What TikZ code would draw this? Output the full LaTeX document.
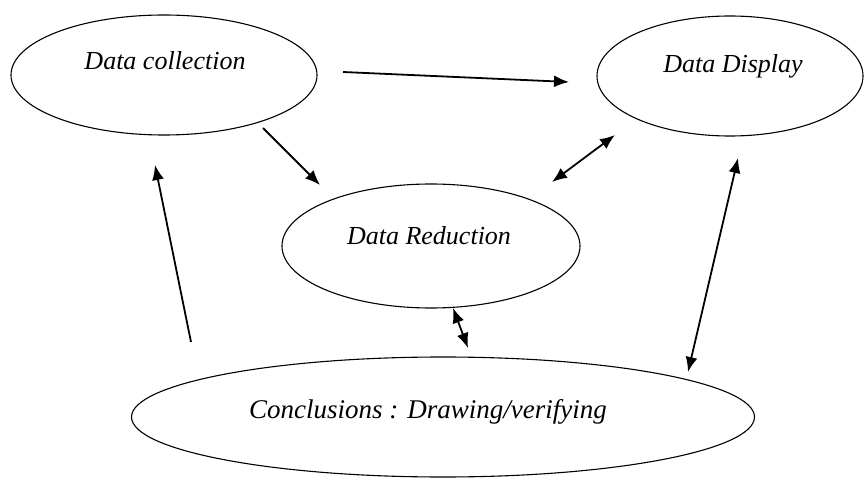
\documentclass[tikz,border=0pt]{standalone}
\usepackage{fontspec}
\setmainfont{Liberation Serif}
\usetikzlibrary{shapes.geometric,arrows.meta}

\tikzset{
	oval/.style={draw,ellipse,line width=1.1pt,inner sep=0pt},
	txt/.style={anchor=base,inner sep=0pt,font=\fontsize{26}{30}\selectfont\itshape},
	link/.style={line width=1.8pt,-{Latex[length=15pt,width=12pt]}},
	both/.style={line width=1.8pt,{Latex[length=15pt,width=12pt]}-{Latex[length=15pt,width=12pt]}}
}

\begin{document}
\begin{tikzpicture}[x=1pt,y=-1pt]
	\useasboundingbox (0,0) rectangle (864,478);
	% the four stages
	\node[oval,minimum width=306pt,minimum height=120pt] (coll) at (164,75) {};
	\node[oval,minimum width=266pt,minimum height=120pt] (disp) at (730,76) {};
	\node[oval,minimum width=298pt,minimum height=124pt] (red) at (431,246) {};
	\node[oval,minimum width=623pt,minimum height=120pt] (conc) at (443,417) {};
	\node[txt] (colltxt) at (165,70) {Data collection};
	\node[txt] (disptxt) at (733,73) {Data Display};
	\node[txt] (redtxt) at (429,245) {Data Reduction};
	\node[txt,font=\fontsize{27}{30}\selectfont\itshape] (conctxt) at (428,418) {Conclusions : Drawing/verifying};
	% arrow ends
	\coordinate (c1) at (343,72);   \coordinate (d1) at (569,82);
	\coordinate (c2) at (263,128);  \coordinate (r2) at (320,185);
	\coordinate (r3) at (552,182);  \coordinate (d3) at (615,135);
	\coordinate (r4) at (453,308);  \coordinate (k4) at (468,348);
	\coordinate (k5) at (688,372);  \coordinate (d5) at (738,158);
	\coordinate (k6) at (191,342);  \coordinate (c6) at (155,165);
	\draw[link] (c1) -- (d1);
	\draw[link] (c2) -- (r2);
	\draw[both] (r3) -- (d3);
	\draw[both] (r4) -- (k4);
	\draw[both] (k5) -- (d5);
	\draw[link] (k6) -- (c6);
\end{tikzpicture}
\end{document}
